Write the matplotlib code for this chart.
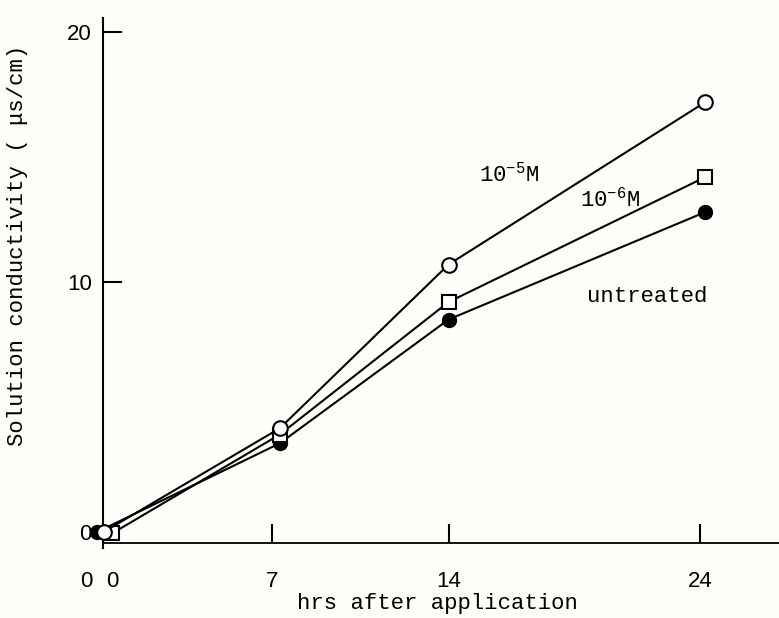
import matplotlib.pyplot as plt
from matplotlib import transforms

# hours after application and conductivity (uS/cm) for each treatment
hrs_5 = [0.3, 7.3, 14.0, 24.2]
cond_5 = [0.0, 4.15, 10.7, 17.2]
hrs_6 = [0.65, 7.3, 14.0, 24.2]
cond_6 = [-0.05, 3.9, 9.2, 14.2]
hrs_u = [0.05, 7.3, 14.0, 24.2]
cond_u = [0.0, 3.55, 8.5, 12.8]

xtick_pos = [7, 14, 24]
xtick_lab = ['7', '14', '24']
ytick_pos = [0, 10, 20]
ytick_lab = ['0', '10', '20']

mono = 'Liberation Mono'
sans = 'Liberation Sans'
plt.rcParams['mathtext.default'] = 'regular'

fig = plt.figure(figsize=(7.79, 6.18), dpi=100, facecolor='#fefefa')
ax = fig.add_axes([103/779, 1 - 548/618, 1 - 103/779, (548 - 18)/618])
ax.set_facecolor('#fefefa')

ax.set_xlim(0.278, 27.12)
ax.set_ylim(-0.64, 20.56)

lw = 1.5
ax.plot(hrs_u, cond_u, '-', color='black', lw=lw, marker='o', ms=10,
        mfc='black', mec='black', clip_on=False, zorder=3)
ax.plot(hrs_6, cond_6, '-', color='black', lw=lw, marker='s', ms=10,
        mfc='white', mec='black', mew=1.5, clip_on=False, zorder=4)
ax.plot(hrs_5, cond_5, '-', color='black', lw=lw, marker='o', ms=10.5,
        mfc='white', mec='black', mew=1.5, clip_on=False, zorder=5)

# axes: left spine full height, bottom spine drawn a little above the axes edge
for s in ['top', 'right']:
    ax.spines[s].set_visible(False)
ax.spines['left'].set_linewidth(1.5)
ax.spines['bottom'].set_linewidth(1.3)
ax.spines['bottom'].set_position(('data', -0.44))

ax.set_xticks(xtick_pos)
ax.set_xticklabels(xtick_lab, family=sans, fontsize=16)
ax.set_yticks(ytick_pos)
ax.set_yticklabels(ytick_lab, family=sans, fontsize=16)
ax.tick_params(axis='x', direction='in', length=14, width=1.5, pad=20)
ax.tick_params(axis='y', direction='in', length=14, width=1.5, pad=8)
ax.yaxis.get_major_ticks()[0].tick1line.set_visible(False)

# the two zero labels under the origin
shift = transforms.ScaledTranslation(0, -20/72, fig.dpi_scale_trans)
for xz in [-0.4, 0.64]:
    ax.text(xz, -0.44, '0', family=sans, fontsize=16, ha='center', va='top',
            transform=ax.transData + shift, clip_on=False)

fig.text(437/779, 1 - 604/618, 'hrs after application', family=mono,
         fontsize=16, ha='center', va='center')
fig.text(18/779, 1 - 245/618, 'Solution conductivity ( \u03bcs/cm)', family=mono,
         fontsize=16, ha='center', va='center', rotation=90)

ax.text(16.4, 14.3, '10$^{-5}$M', family=mono, fontsize=16, ha='center', va='center')
ax.text(20.4, 13.3, '10$^{-6}$M', family=mono, fontsize=16, ha='center', va='center')
ax.text(21.9, 9.4, 'untreated', family=mono, fontsize=16, ha='center', va='center')

fig.savefig('out.png', dpi=100, facecolor=fig.get_facecolor())
